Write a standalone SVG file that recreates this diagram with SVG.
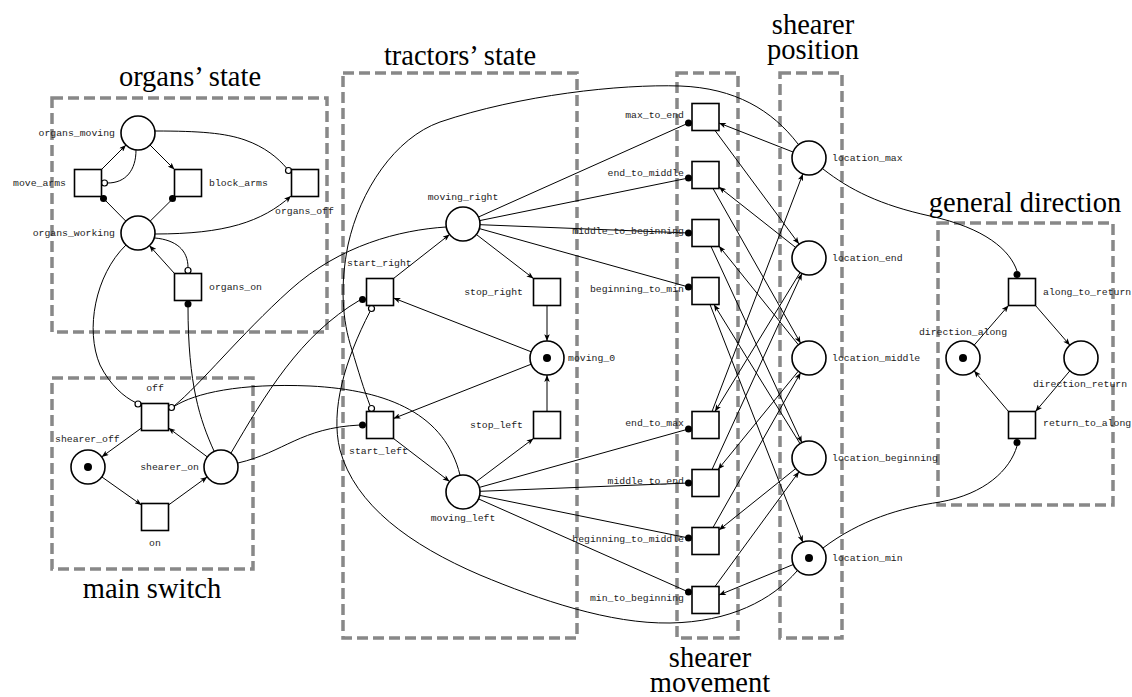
<svg xmlns="http://www.w3.org/2000/svg" width="1132" height="697" viewBox="0 0 1132 697">
<style>
.box{fill:none;stroke:#888;stroke-width:3.5;stroke-dasharray:11 5}
.title{font-family:"Liberation Serif",serif;font-size:28.5px;fill:#000;text-anchor:middle}
.lbl{font-family:"Liberation Mono",monospace;font-size:9.8px;fill:#222}
.e{text-anchor:end}.m{text-anchor:middle}
.pl{fill:#fff;stroke:#000;stroke-width:1.6}
.tr{fill:#fff;stroke:#000;stroke-width:1.6}
.tok{fill:#000}
.arc{fill:none;stroke:#000;stroke-width:1}
.a{marker-end:url(#arr)}
.dot{fill:#000}
.inh{fill:#fff;stroke:#000;stroke-width:1.2}
</style>
<defs>
<marker id="arr" viewBox="0 0 10 8" refX="10" refY="4" markerWidth="7.5" markerHeight="5.5" markerUnits="userSpaceOnUse" orient="auto"><path d="M0,0 L10,4 L0,8 L2.5,4 z" fill="#000"/></marker>
</defs>
<rect width="1132" height="697" fill="#fff"/>
<g id="groups">
<rect class="box" x="52" y="98" width="275" height="234"/>
<text class="title" x="190" y="86">organs’ state</text>
<rect class="box" x="52" y="378" width="201" height="191"/>
<text class="title" x="152" y="598">main switch</text>
<rect class="box" x="343" y="73" width="234" height="565"/>
<text class="title" x="460" y="65">tractors’ state</text>
<rect class="box" x="677" y="73" width="61" height="565"/>
<text class="title" x="710" y="667">shearer</text>
<text class="title" x="710" y="692">movement</text>
<rect class="box" x="780" y="73" width="62" height="565"/>
<text class="title" x="813" y="34">shearer</text>
<text class="title" x="813" y="59">position</text>
<rect class="box" x="938" y="223" width="175" height="282"/>
<text class="title" x="1025" y="212">general direction</text>
</g>
<g id="connectors">
<!-- organs -->
<path class="arc a" d="M101.5,169.5 L126,145"/>
<path class="arc a" d="M150,145 L174.5,169.5"/>
<path class="arc" d="M136,150 C136,170 126,183 107.5,183"/>
<circle class="inh" cx="104.5" cy="183" r="3"/>
<path class="arc" d="M125.8,221.1 L104,199"/>
<circle class="dot" cx="103.5" cy="198.5" r="3.5"/>
<path class="arc" d="M150.2,221.1 L172.5,199"/>
<circle class="dot" cx="172.5" cy="198.5" r="3.5"/>
<path class="arc" d="M155,131 C200,131 225,133 245,140 C265,147 278,158 286.5,168"/>
<circle class="inh" cx="288.5" cy="170.5" r="3"/>
<path class="arc a" d="M155,234 C225,234 262,222 291,196"/>
<path class="arc a" d="M174.5,273.5 L149.4,245.6"/>
<path class="arc" d="M155,238 C176,240 188,250 188,267.5"/>
<circle class="inh" cx="188" cy="270.5" r="3"/>
<path class="arc" d="M214,451 C200,420 188,385 188,306"/>
<circle class="dot" cx="188" cy="304" r="3.5"/>
<path class="arc" d="M126,245 C95,275 85,330 100,365 C110,385 124,397 135.5,402.5"/>
<circle class="inh" cx="138" cy="404" r="3"/>
<!-- main switch -->
<path class="arc a" d="M141.5,428 L101.7,456.9"/>
<path class="arc a" d="M101.8,476.9 L141.5,505"/>
<path class="arc a" d="M168.5,505 L207.2,476.9"/>
<path class="arc a" d="M207.3,456.9 L168.5,428"/>
<path class="arc" d="M446,227 C400,230 340,245 290,290 C240,335 200,385 174,406"/>
<path class="arc" d="M460,475 C445,415 390,390 310,386 C240,383 195,393 174,406.5"/>
<circle class="inh" cx="171.5" cy="407.5" r="3"/>
<path class="arc" d="M231,453 C265,395 300,335 360,300"/>
<circle class="dot" cx="362.5" cy="299.5" r="3.5"/>
<path class="arc" d="M238,463 C285,452 300,428 360,425"/>
<circle class="dot" cx="362.5" cy="425" r="3.5"/>
<!-- tractors -->
<path class="arc a" d="M393.5,278.5 L449.6,234.5"/>
<path class="arc a" d="M476.4,234.5 L533.5,278.5"/>
<path class="arc a" d="M547,305.5 L547,341"/>
<path class="arc a" d="M531.2,351.8 L393.5,298"/>
<path class="arc a" d="M531.2,364.2 L393.5,418.5"/>
<path class="arc a" d="M393.5,438.5 L449.6,481.5"/>
<path class="arc a" d="M476.4,481.5 L533.5,438.5"/>
<path class="arc a" d="M547,411.5 L547,375"/>
<path class="arc" d="M798,144 C772,110 735,88 680,86 C620,84 520,95 440,122 C395,138 360,190 348,245 C340,285 342,320 352,350 C358,370 364,390 370,405.5"/>
<circle class="inh" cx="371.5" cy="408.5" r="3"/>
<path class="arc" d="M797,571 C772,600 730,622 670,623 C610,624 540,600 480,575 C410,545 355,505 340,450 C330,410 345,360 370,311.5"/>
<circle class="inh" cx="371.5" cy="308.5" r="3"/>
<!-- moving_right / moving_left to shearer movement -->
<path class="arc" d="M478.5,217 L688.5,123"/>
<path class="arc" d="M479.7,220.6 L688.5,178"/>
<path class="arc" d="M480,224.7 L688.5,233"/>
<path class="arc" d="M479.4,228.6 L688.5,287"/>
<path class="arc" d="M479.4,487.4 L688.5,429"/>
<path class="arc" d="M480,491.3 L688.5,483"/>
<path class="arc" d="M479.7,495.4 L688.5,538"/>
<path class="arc" d="M478.5,498.9 L688.5,592"/>
<circle class="dot" cx="688.5" cy="123" r="3.5"/>
<circle class="dot" cx="688.5" cy="178" r="3.5"/>
<circle class="dot" cx="688.5" cy="233" r="3.5"/>
<circle class="dot" cx="688.5" cy="287" r="3.5"/>
<circle class="dot" cx="688.5" cy="429" r="3.5"/>
<circle class="dot" cx="688.5" cy="483" r="3.5"/>
<circle class="dot" cx="688.5" cy="538" r="3.5"/>
<circle class="dot" cx="688.5" cy="592" r="3.5"/>
<!-- movement <-> position -->
<path class="arc a" d="M793,152 L719,123"/>
<path class="arc a" d="M715,130.5 L799,244"/>
<path class="arc a" d="M795.7,247.5 L719,187"/>
<path class="arc a" d="M713,188.5 L800.6,343.2"/>
<path class="arc a" d="M798.4,344.8 L719,246"/>
<path class="arc a" d="M711,246.5 L801.8,442.6"/>
<path class="arc a" d="M800,443.6 L714,304.5"/>
<path class="arc a" d="M710,304.5 L802.8,542.2"/>
<path class="arc a" d="M712,411.5 L802.9,173.9"/>
<path class="arc a" d="M800.1,272.5 L715,411.5"/>
<path class="arc a" d="M712,469.5 L801.9,273.5"/>
<path class="arc a" d="M798.3,371.2 L718,469.5"/>
<path class="arc a" d="M713,527.5 L800.6,372.8"/>
<path class="arc a" d="M795.7,468.6 L719,530"/>
<path class="arc a" d="M715,586.5 L799,471.7"/>
<path class="arc a" d="M793.3,564.5 L719,595"/>
<!-- general direction -->
<path class="arc a" d="M974.1,345.2 L1008.5,305.5"/>
<path class="arc a" d="M1035.5,305.5 L1069.9,345.2"/>
<path class="arc a" d="M1069.9,370.8 L1035.5,411.5"/>
<path class="arc a" d="M1008.5,411.5 L974.1,370.8"/>
<path class="arc" d="M823,169 C850,190 880,205 930,216 C985,228 1010,250 1017,271"/>
<circle class="dot" cx="1017" cy="274.5" r="3.5"/>
<path class="arc" d="M823,548 C860,520 900,508 940,502 C985,494 1010,470 1017,446"/>
<circle class="dot" cx="1017" cy="442.5" r="3.5"/>
</g>
<g id="organs_moving"><circle class="pl" cx="138" cy="133" r="17"/><text class="lbl e" x="115" y="136">organs_moving</text></g>
<g id="organs_working"><circle class="pl" cx="138" cy="233" r="17"/><text class="lbl e" x="115" y="236">organs_working</text></g>
<g id="move_arms"><rect class="tr" x="74.5" y="169.5" width="27" height="27"/><text class="lbl e" x="66" y="186">move_arms</text></g>
<g id="block_arms"><rect class="tr" x="174.5" y="169.5" width="27" height="27"/><text class="lbl" x="209" y="186">block_arms</text></g>
<g id="organs_off"><rect class="tr" x="291.5" y="169.5" width="27" height="27"/><text class="lbl" x="275" y="214">organs_off</text></g>
<g id="organs_on"><rect class="tr" x="174.5" y="273.5" width="27" height="27"/><text class="lbl" x="209" y="290">organs_on</text></g>
<g id="off"><rect class="tr" x="141.5" y="403.5" width="27" height="27"/><text class="lbl m" x="155" y="391">off</text></g>
<g id="on"><rect class="tr" x="141.5" y="503.5" width="27" height="27"/><text class="lbl m" x="155" y="546">on</text></g>
<g id="shearer_off"><circle class="pl" cx="88" cy="467" r="17"/><circle class="tok" cx="88" cy="467" r="4"/><text class="lbl" x="55" y="442">shearer_off</text></g>
<g id="shearer_on"><circle class="pl" cx="221" cy="467" r="17"/><text class="lbl e" x="199" y="470">shearer_on</text></g>
<g id="moving_right"><circle class="pl" cx="463" cy="224" r="17"/><text class="lbl m" x="463" y="200">moving_right</text></g>
<g id="moving_left"><circle class="pl" cx="463" cy="492" r="17"/><text class="lbl m" x="463" y="521">moving_left</text></g>
<g id="moving_0"><circle class="pl" cx="547" cy="358" r="17"/><circle class="tok" cx="547" cy="358" r="4"/><text class="lbl" x="568" y="361">moving_0</text></g>
<g id="start_right"><rect class="tr" x="366.5" y="278.5" width="27" height="27"/><text class="lbl" x="347" y="266">start_right</text></g>
<g id="stop_right"><rect class="tr" x="533.5" y="278.5" width="27" height="27"/><text class="lbl e" x="523" y="295">stop_right</text></g>
<g id="stop_left"><rect class="tr" x="533.5" y="411.5" width="27" height="27"/><text class="lbl e" x="523" y="428">stop_left</text></g>
<g id="start_left"><rect class="tr" x="366.5" y="411.5" width="27" height="27"/><text class="lbl" x="349" y="454">start_left</text></g>
<g id="max_to_end"><rect class="tr" x="692" y="103.5" width="27" height="27"/><text class="lbl e" x="684" y="118">max_to_end</text></g>
<g id="end_to_middle"><rect class="tr" x="692" y="161.5" width="27" height="27"/><text class="lbl e" x="684" y="176">end_to_middle</text></g>
<g id="middle_to_beginning"><rect class="tr" x="692" y="219.5" width="27" height="27"/><text class="lbl e" x="684" y="234">middle_to_beginning</text></g>
<g id="beginning_to_min"><rect class="tr" x="692" y="277.5" width="27" height="27"/><text class="lbl e" x="684" y="292">beginning_to_min</text></g>
<g id="end_to_max"><rect class="tr" x="692" y="411.5" width="27" height="27"/><text class="lbl e" x="684" y="426">end_to_max</text></g>
<g id="middle_to_end"><rect class="tr" x="692" y="469.5" width="27" height="27"/><text class="lbl e" x="684" y="484">middle_to_end</text></g>
<g id="beginning_to_middle"><rect class="tr" x="692" y="527.5" width="27" height="27"/><text class="lbl e" x="684" y="542">beginning_to_middle</text></g>
<g id="min_to_beginning"><rect class="tr" x="692" y="586.5" width="27" height="27"/><text class="lbl e" x="684" y="601">min_to_beginning</text></g>
<g id="location_max"><circle class="pl" cx="809" cy="158" r="17"/><text class="lbl" x="832" y="161">location_max</text></g>
<g id="location_end"><circle class="pl" cx="809" cy="258" r="17"/><text class="lbl" x="832" y="261">location_end</text></g>
<g id="location_middle"><circle class="pl" cx="809" cy="358" r="17"/><text class="lbl" x="832" y="361">location_middle</text></g>
<g id="location_beginning"><circle class="pl" cx="809" cy="458" r="17"/><text class="lbl" x="832" y="461">location_beginning</text></g>
<g id="location_min"><circle class="pl" cx="809" cy="558" r="17"/><circle class="tok" cx="809" cy="558" r="4"/><text class="lbl" x="832" y="561">location_min</text></g>
<g id="along_to_return"><rect class="tr" x="1008.5" y="278.5" width="27" height="27"/><text class="lbl" x="1043" y="295">along_to_return</text></g>
<g id="return_to_along"><rect class="tr" x="1008.5" y="411.5" width="27" height="27"/><text class="lbl" x="1043" y="426">return_to_along</text></g>
<g id="direction_along"><circle class="pl" cx="963" cy="358" r="17"/><circle class="tok" cx="963" cy="358" r="4"/><text class="lbl m" x="963" y="335">direction_along</text></g>
<g id="direction_return"><circle class="pl" cx="1081" cy="358" r="17"/><text class="lbl m" x="1080" y="387">direction_return</text></g>
</svg>
